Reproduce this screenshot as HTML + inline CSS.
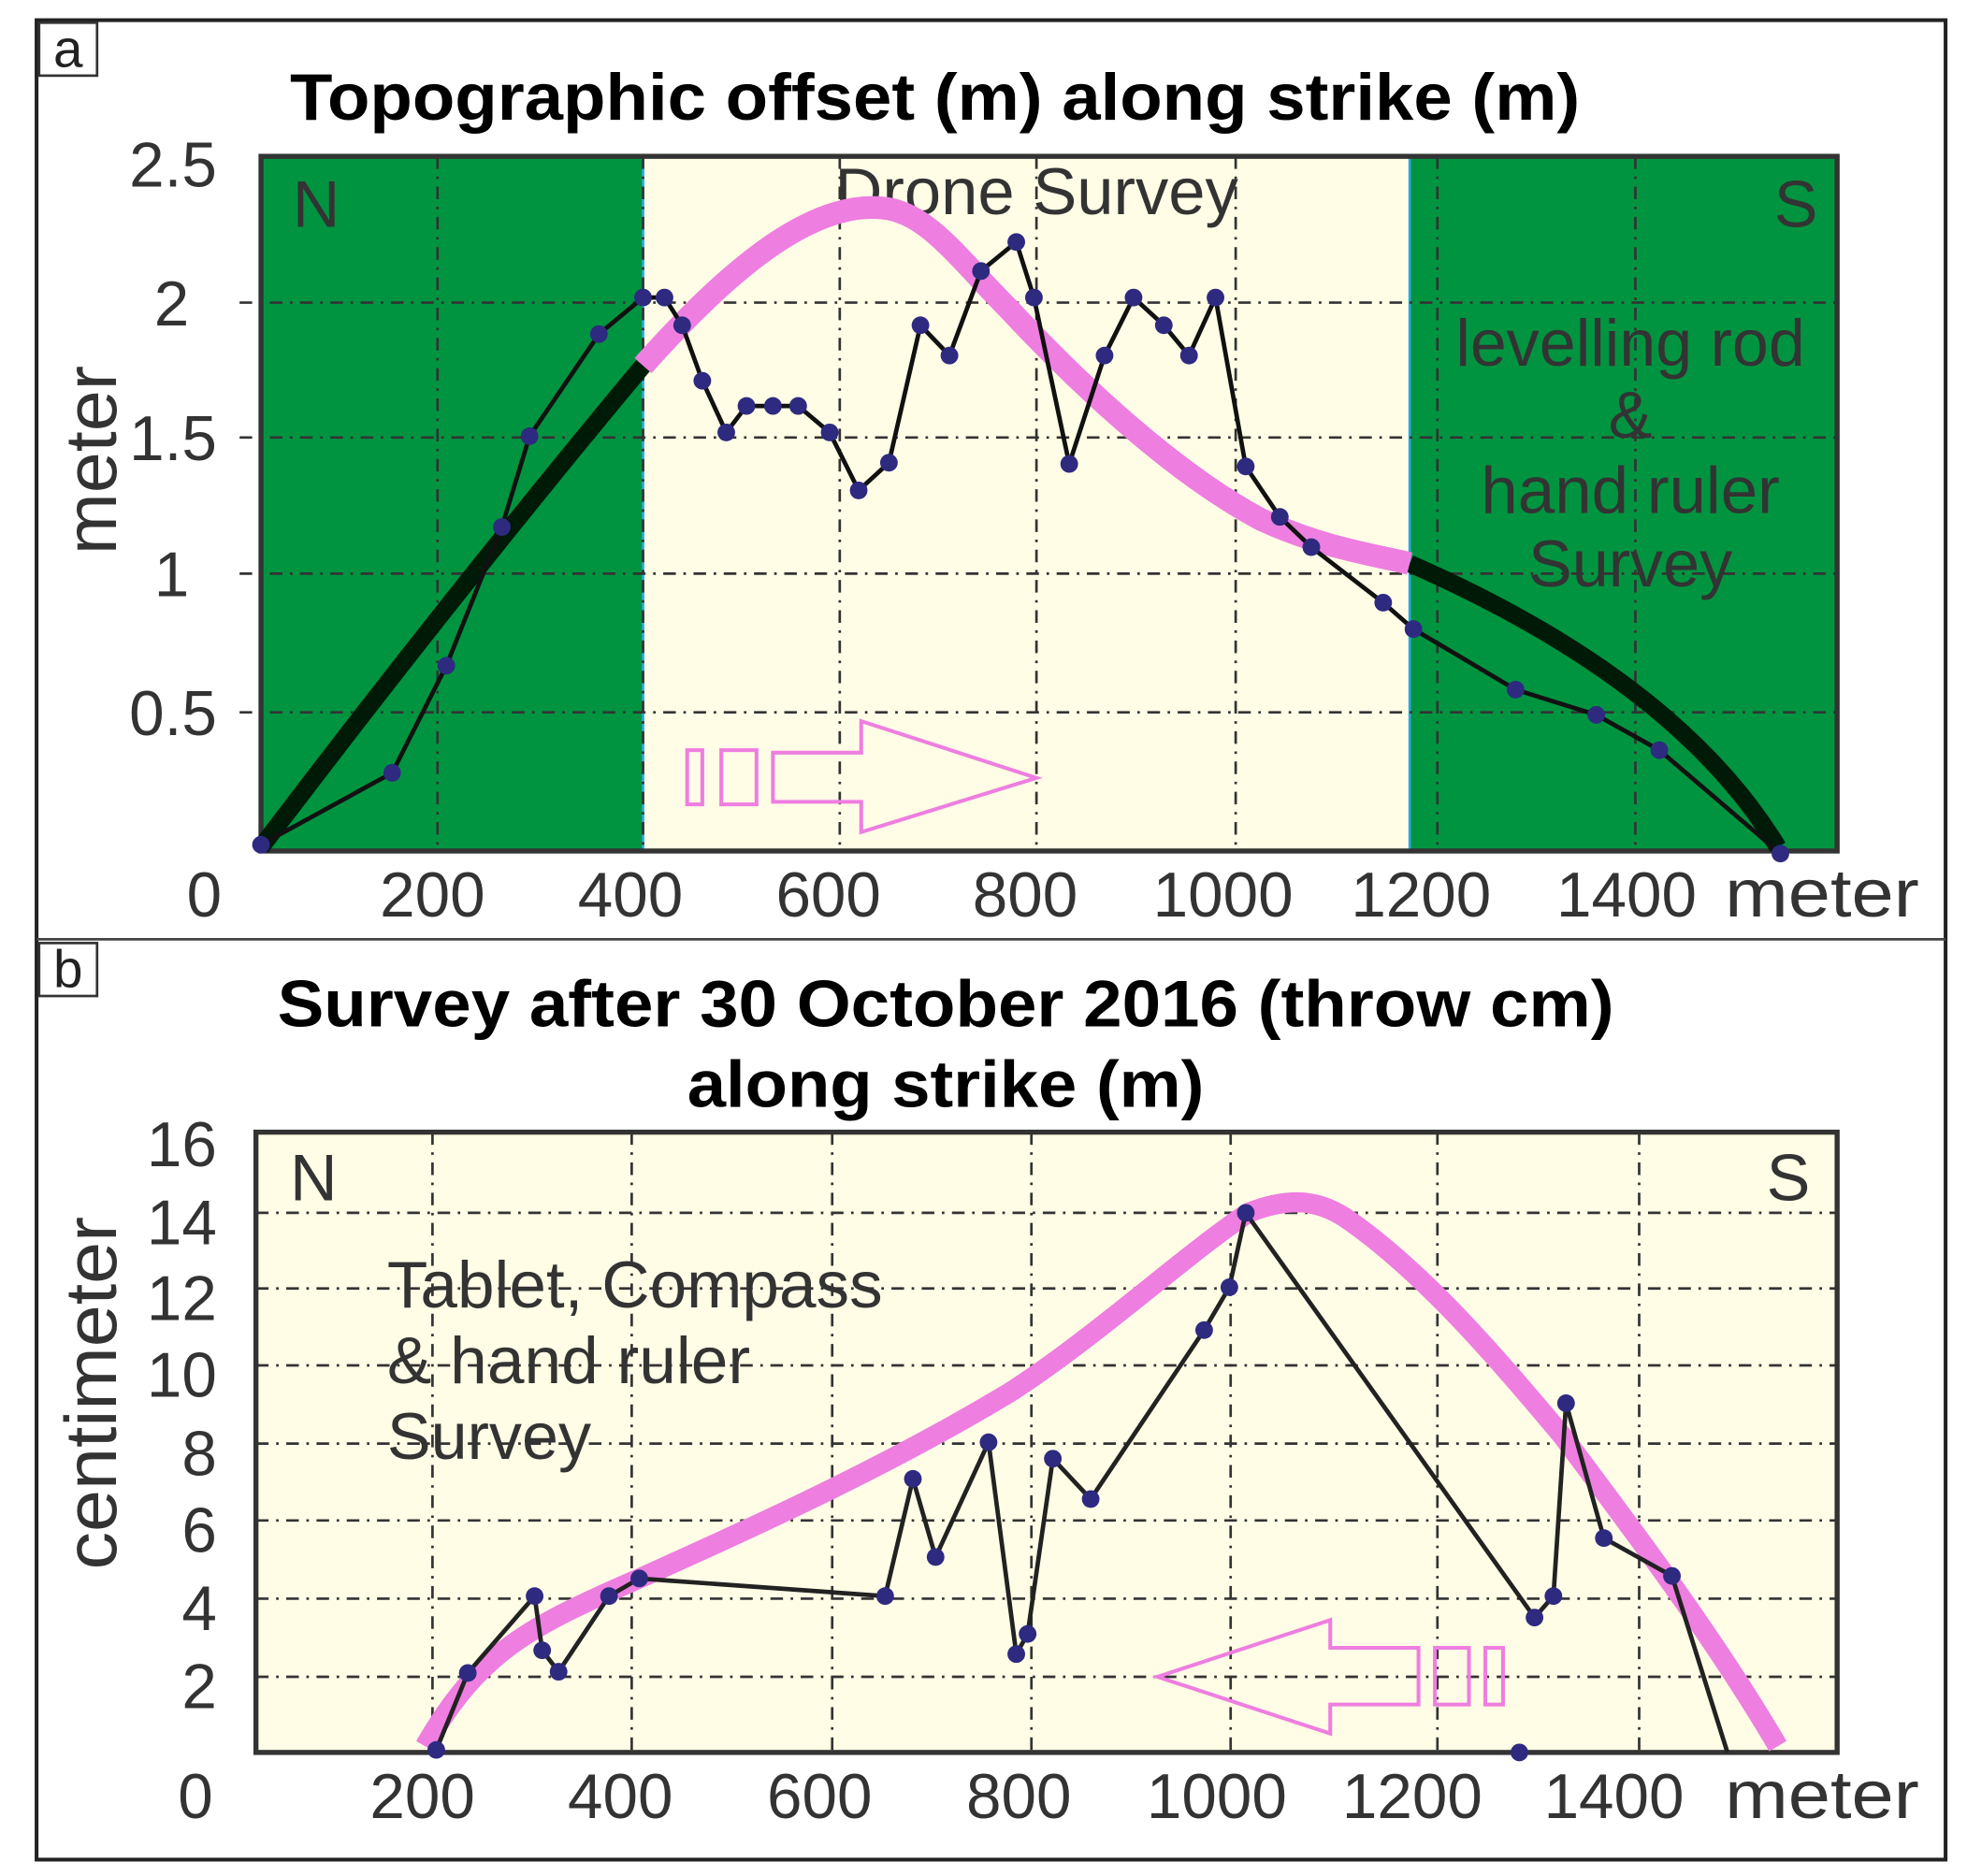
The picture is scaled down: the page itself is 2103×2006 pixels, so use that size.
<!DOCTYPE html>
<html><head><meta charset="utf-8"><style>html,body{margin:0;padding:0;background:#fff}svg{display:block}</style></head><body>
<svg width="2103" height="2006" viewBox="0 0 1560 1488" preserveAspectRatio="none" xmlns="http://www.w3.org/2000/svg" font-family="Liberation Sans, sans-serif">
<rect x="0" y="0" width="1560" height="1488" fill="#fff"/>
<rect x="29" y="16" width="1514" height="1459" fill="none" stroke="#222" stroke-width="3"/>
<line x1="29" y1="745" x2="1543" y2="745" stroke="#444" stroke-width="2"/>
<rect x="31" y="18" width="46" height="42" fill="#fff" stroke="#333" stroke-width="2"/>
<text x="54" y="53" font-size="42" text-anchor="middle" fill="#222">a</text>
<rect x="31" y="748" width="46" height="42" fill="#fff" stroke="#333" stroke-width="2"/>
<text x="54" y="783" font-size="42" text-anchor="middle" fill="#222">b</text>

<text x="230" y="95" font-size="52" font-weight="bold" textLength="1023" lengthAdjust="spacingAndGlyphs" fill="#000">Topographic offset (m) along strike (m)</text>
<!-- panel a -->
<rect x="207" y="124" width="303" height="551" fill="#009440"/>
<rect x="510" y="124" width="608" height="551" fill="#fffde6"/>
<rect x="1118" y="124" width="339" height="551" fill="#009440"/>
<line x1="510" y1="124" x2="510" y2="675" stroke="#29a8e0" stroke-width="2"/>
<line x1="1118" y1="124" x2="1118" y2="675" stroke="#29a8e0" stroke-width="2"/>
<g stroke="#333" stroke-width="2" stroke-dasharray="10,6,2,6">
<line x1="347" y1="124" x2="347" y2="675"/><line x1="510" y1="124" x2="510" y2="675"/><line x1="666" y1="124" x2="666" y2="675"/><line x1="822" y1="124" x2="822" y2="675"/><line x1="980" y1="124" x2="980" y2="675"/><line x1="1140" y1="124" x2="1140" y2="675"/><line x1="1297" y1="124" x2="1297" y2="675"/>
<line x1="190" y1="240" x2="1457" y2="240"/><line x1="190" y1="347" x2="1457" y2="347"/><line x1="190" y1="455" x2="1457" y2="455"/><line x1="190" y1="565" x2="1457" y2="565"/>
</g>
<rect x="207" y="124" width="1250" height="551" fill="none" stroke="#333" stroke-width="4"/>
<g fill="#333" font-size="52">
<text x="232" y="180">N</text><text x="1407" y="180">S</text>
<text x="822" y="170" text-anchor="middle" textLength="320" lengthAdjust="spacingAndGlyphs">Drone Survey</text>
<text x="1293" y="290" text-anchor="middle" textLength="277" lengthAdjust="spacingAndGlyphs">levelling rod</text>
<text x="1293" y="347" text-anchor="middle">&amp;</text>
<text x="1293" y="407" text-anchor="middle" textLength="237" lengthAdjust="spacingAndGlyphs">hand ruler</text>
<text x="1293" y="465" text-anchor="middle">Survey</text>
</g>
<path d="M207,672 Q360,470 510,290" fill="none" stroke="#001a08" stroke-width="14"/>
<path d="M1118,447 Q1330,540 1410,672" fill="none" stroke="#001a08" stroke-width="14"/>
<path d="M510,290 C590,200 650,160 700,165 C735,168 760,205 800,245 C870,320 940,380 1000,412 C1050,435 1090,440 1118,447" fill="none" stroke="#ee7ee0" stroke-width="18"/>
<g fill="none" stroke="#ee7ee0" stroke-width="3">
<rect x="545" y="595" width="12" height="43"/><rect x="572" y="595" width="28" height="43"/>
<path d="M613,597 H683 V572 L822,617 L683,660 V636 H613 Z"/>
</g>
<polyline fill="none" stroke="#111" stroke-width="3.5" points="207,670 311,613 354,528 398,418 420,346 475,265 510,236 527,236 541,258 557,302 576,343 592,322 613,322 633,322 658,343 681,389 705,367 730,258 753,282 778,215 806,192 820,236 848,368 876,282 899,236 923,258 943,282 964,236 988,370 1015,410 1040,434 1097,478 1121,499 1202,547 1266,567 1316,595 1412,677"/>
<g fill="#2e2a80">
<circle cx="207" cy="670" r="7"/><circle cx="311" cy="613" r="7"/><circle cx="354" cy="528" r="7"/><circle cx="398" cy="418" r="7"/><circle cx="420" cy="346" r="7"/><circle cx="475" cy="265" r="7"/><circle cx="510" cy="236" r="7"/><circle cx="527" cy="236" r="7"/><circle cx="541" cy="258" r="7"/><circle cx="557" cy="302" r="7"/><circle cx="576" cy="343" r="7"/><circle cx="592" cy="322" r="7"/><circle cx="613" cy="322" r="7"/><circle cx="633" cy="322" r="7"/><circle cx="658" cy="343" r="7"/><circle cx="681" cy="389" r="7"/><circle cx="705" cy="367" r="7"/><circle cx="730" cy="258" r="7"/><circle cx="753" cy="282" r="7"/><circle cx="778" cy="215" r="7"/><circle cx="806" cy="192" r="7"/><circle cx="820" cy="236" r="7"/><circle cx="848" cy="368" r="7"/><circle cx="876" cy="282" r="7"/><circle cx="899" cy="236" r="7"/><circle cx="923" cy="258" r="7"/><circle cx="943" cy="282" r="7"/><circle cx="964" cy="236" r="7"/><circle cx="988" cy="370" r="7"/><circle cx="1015" cy="410" r="7"/><circle cx="1040" cy="434" r="7"/><circle cx="1097" cy="478" r="7"/><circle cx="1121" cy="499" r="7"/><circle cx="1202" cy="547" r="7"/><circle cx="1266" cy="567" r="7"/><circle cx="1316" cy="595" r="7"/><circle cx="1412" cy="677" r="7"/>
</g>
<g fill="#333" font-size="50">
<text x="172" y="148" text-anchor="end">2.5</text><text x="150" y="258" text-anchor="end">2</text><text x="172" y="365" text-anchor="end">1.5</text><text x="150" y="473" text-anchor="end">1</text><text x="172" y="583" text-anchor="end">0.5</text>
<text x="162" y="727" text-anchor="middle">0</text><text x="343" y="727" text-anchor="middle">200</text><text x="500" y="727" text-anchor="middle">400</text><text x="657" y="727" text-anchor="middle">600</text><text x="813" y="727" text-anchor="middle">800</text><text x="970" y="727" text-anchor="middle">1000</text><text x="1127" y="727" text-anchor="middle">1200</text><text x="1290" y="727" text-anchor="middle">1400</text><text x="1368" y="727" font-size="54" textLength="154" lengthAdjust="spacingAndGlyphs">meter</text>
<text transform="translate(92,365) rotate(-90)" font-size="58" text-anchor="middle" textLength="150" lengthAdjust="spacingAndGlyphs">meter</text>
</g>

<!-- panel b -->
<text x="220" y="814" font-size="52" font-weight="bold" textLength="1060" lengthAdjust="spacingAndGlyphs" fill="#000">Survey after 30 October 2016 (throw cm)</text>
<text x="545" y="878" font-size="52" font-weight="bold" textLength="410" lengthAdjust="spacingAndGlyphs" fill="#000">along strike (m)</text>
<rect x="203" y="898" width="1254" height="492" fill="#fffde6"/>
<g stroke="#333" stroke-width="2" stroke-dasharray="10,6,2,6">
<line x1="343" y1="898" x2="343" y2="1390"/><line x1="501" y1="898" x2="501" y2="1390"/><line x1="660" y1="898" x2="660" y2="1390"/><line x1="818" y1="898" x2="818" y2="1390"/><line x1="976" y1="898" x2="976" y2="1390"/><line x1="1140" y1="898" x2="1140" y2="1390"/><line x1="1300" y1="898" x2="1300" y2="1390"/>
<line x1="203" y1="962" x2="1457" y2="962"/><line x1="203" y1="1022" x2="1457" y2="1022"/><line x1="203" y1="1083" x2="1457" y2="1083"/><line x1="203" y1="1145" x2="1457" y2="1145"/><line x1="203" y1="1206" x2="1457" y2="1206"/><line x1="203" y1="1268" x2="1457" y2="1268"/><line x1="203" y1="1330" x2="1457" y2="1330"/>
</g>
<rect x="203" y="898" width="1254" height="492" fill="none" stroke="#333" stroke-width="4"/>
<g fill="#333" font-size="52">
<text x="230" y="952">N</text><text x="1401" y="952">S</text>
<text x="307" y="1037" textLength="393" lengthAdjust="spacingAndGlyphs">Tablet, Compass</text>
<text x="307" y="1097" textLength="288" lengthAdjust="spacingAndGlyphs">&amp; hand ruler</text>
<text x="307" y="1157">Survey</text>
</g>
<path d="M337,1385 C380,1310 420,1290 507,1252 C600,1210 700,1165 800,1105 C870,1060 940,995 990,962 C1020,950 1045,950 1070,968 C1130,1010 1190,1080 1240,1140 C1300,1220 1360,1300 1410,1385" fill="none" stroke="#ee7ee0" stroke-width="16"/>
<g fill="none" stroke="#ee7ee0" stroke-width="3">
<path d="M1125,1307 H1055 V1285 L918,1330 L1055,1375 V1352 H1125 Z"/>
<rect x="1138" y="1307" width="27" height="45"/><rect x="1178" y="1307" width="14" height="45"/>
</g>
<polyline fill="none" stroke="#222" stroke-width="3.5" points="346,1388 371,1327 424,1266 430,1309 443,1326 483,1266 507,1252 702,1266 724,1173 742,1235 784,1144 806,1312 815,1296 835,1157 865,1189 955,1055 975,1021 988,962 1217,1283 1232,1266 1242,1113 1272,1220 1326,1250 1370,1390"/>
<g fill="#2e2a80">
<circle cx="346" cy="1388" r="7"/><circle cx="371" cy="1327" r="7"/><circle cx="424" cy="1266" r="7"/><circle cx="430" cy="1309" r="7"/><circle cx="443" cy="1326" r="7"/><circle cx="483" cy="1266" r="7"/><circle cx="507" cy="1252" r="7"/><circle cx="702" cy="1266" r="7"/><circle cx="724" cy="1173" r="7"/><circle cx="742" cy="1235" r="7"/><circle cx="784" cy="1144" r="7"/><circle cx="806" cy="1312" r="7"/><circle cx="815" cy="1296" r="7"/><circle cx="835" cy="1157" r="7"/><circle cx="865" cy="1189" r="7"/><circle cx="955" cy="1055" r="7"/><circle cx="975" cy="1021" r="7"/><circle cx="988" cy="962" r="7"/><circle cx="1217" cy="1283" r="7"/><circle cx="1232" cy="1266" r="7"/><circle cx="1242" cy="1113" r="7"/><circle cx="1272" cy="1220" r="7"/><circle cx="1326" cy="1250" r="7"/><circle cx="1205" cy="1390" r="7"/>
</g>
<g fill="#333" font-size="50">
<text x="172" y="925" text-anchor="end">16</text><text x="172" y="987" text-anchor="end">14</text><text x="172" y="1047" text-anchor="end">12</text><text x="172" y="1108" text-anchor="end">10</text><text x="172" y="1170" text-anchor="end">8</text><text x="172" y="1231" text-anchor="end">6</text><text x="172" y="1293" text-anchor="end">4</text><text x="172" y="1355" text-anchor="end">2</text>
<text x="155" y="1442" text-anchor="middle">0</text><text x="335" y="1442" text-anchor="middle">200</text><text x="492" y="1442" text-anchor="middle">400</text><text x="650" y="1442" text-anchor="middle">600</text><text x="808" y="1442" text-anchor="middle">800</text><text x="965" y="1442" text-anchor="middle">1000</text><text x="1120" y="1442" text-anchor="middle">1200</text><text x="1280" y="1442" text-anchor="middle">1400</text><text x="1368" y="1442" font-size="54" textLength="154" lengthAdjust="spacingAndGlyphs">meter</text>
<text transform="translate(92,1105) rotate(-90)" font-size="58" text-anchor="middle" textLength="280" lengthAdjust="spacingAndGlyphs">centimeter</text>
</g>
</svg>
</body></html>
